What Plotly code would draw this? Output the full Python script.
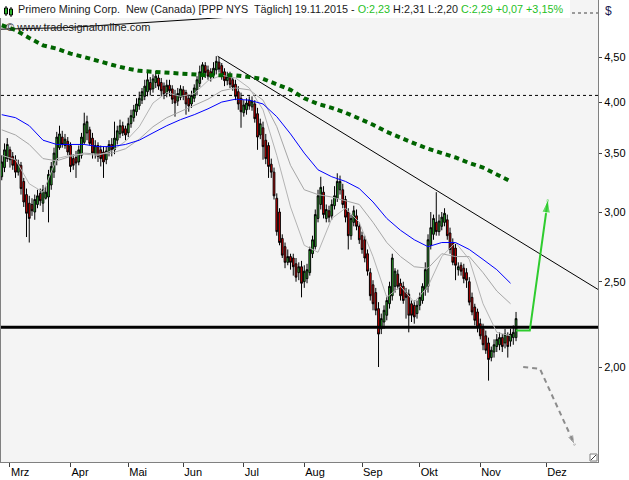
import math
import plotly.graph_objects as go

# Daily candles, Feb 25 2015 .. Nov 19 2015 (trading day index 0..187)
opens = [
    3.29, 3.37, 3.45, 3.53, 3.47, 3.44, 3.33, 3.39, 3.25, 3.14,
    3.07, 3.06, 3.00, 3.06, 3.15, 3.07, 3.11, 3.12, 3.22, 3.33,
    3.44, 3.55, 3.65, 3.57, 3.61, 3.57, 3.45, 3.46, 3.42, 3.48,
    3.60, 3.69, 3.72, 3.64, 3.49, 3.57, 3.53, 3.51, 3.44, 3.51,
    3.58, 3.53, 3.62, 3.68, 3.76, 3.73, 3.69, 3.78, 3.84, 3.90,
    3.96, 4.02, 4.06, 4.11, 4.21, 4.14, 4.21, 4.26, 4.21, 4.17,
    4.09, 4.18, 4.14, 4.08, 4.01, 4.05, 4.13, 4.10, 4.04, 3.98,
    4.04, 4.13, 4.20, 4.28, 4.40, 4.35, 4.33, 4.29, 4.35, 4.44,
    4.40, 4.33, 4.23, 4.28, 4.24, 4.19, 4.11, 4.04, 3.89, 3.92,
    4.02, 3.95, 3.98, 3.88, 3.67, 3.74, 3.62, 3.57, 3.40, 3.33,
    3.11, 3.00, 2.80, 2.74, 2.63, 2.67, 2.66, 2.62, 2.56, 2.60,
    2.50, 2.52, 2.56, 2.69, 2.74, 2.95, 3.06, 3.16, 2.95, 3.01,
    2.97, 3.05, 3.11, 3.18, 3.18, 3.10, 3.00, 2.82, 2.92, 2.97,
    2.89, 2.82, 2.79, 2.69, 2.56, 2.48, 2.43, 2.33, 2.21, 2.25,
    2.29, 2.36, 2.41, 2.47, 2.55, 2.49, 2.47, 2.43, 2.42, 2.36,
    2.35, 2.30, 2.35, 2.38, 2.45, 2.47, 2.75, 2.83, 2.92, 2.85,
    2.89, 2.92, 2.94, 2.84, 2.77, 2.73, 2.58, 2.61, 2.59, 2.56,
    2.50, 2.40, 2.34, 2.31, 2.24, 2.21, 2.17, 2.13, 2.05, 2.08,
    2.11, 2.12, 2.16, 2.13, 2.17, 2.14, 2.16, 2.16,
]
highs = [
    3.48, 3.59, 3.64, 3.56, 3.51, 3.48, 3.44, 3.42, 3.28, 3.19,
    3.13, 3.11, 3.14, 3.18, 3.19, 3.22, 3.21, 3.35, 3.42, 3.55,
    3.70, 3.76, 3.71, 3.68, 3.65, 3.60, 3.49, 3.52, 3.57, 3.69,
    3.89, 3.86, 3.75, 3.69, 3.62, 3.60, 3.57, 3.56, 3.56, 3.62,
    3.64, 3.80, 3.76, 3.82, 3.80, 3.76, 3.84, 3.92, 3.97, 4.04,
    4.11, 4.15, 4.24, 4.33, 4.27, 4.30, 4.34, 4.30, 4.26, 4.21,
    4.24, 4.24, 4.18, 4.13, 4.15, 4.18, 4.17, 4.13, 4.08, 4.12,
    4.19, 4.28, 4.40, 4.44, 4.44, 4.40, 4.37, 4.44, 4.51, 4.50,
    4.43, 4.37, 4.33, 4.33, 4.26, 4.24, 4.17, 4.10, 4.02, 4.04,
    4.06, 4.06, 4.02, 3.94, 3.83, 3.80, 3.68, 3.60, 3.45, 3.37,
    3.15, 3.03, 2.83, 2.77, 2.72, 2.69, 2.69, 2.66, 2.63, 2.64,
    2.61, 2.62, 2.74, 2.82, 3.02, 3.18, 3.29, 3.21, 3.06, 3.05,
    3.10, 3.21, 3.32, 3.30, 3.23, 3.13, 3.03, 2.98, 3.05, 3.02,
    2.92, 2.85, 2.82, 2.72, 2.59, 2.51, 2.46, 2.37, 2.30, 2.35,
    2.41, 2.50, 2.69, 2.59, 2.58, 2.52, 2.50, 2.46, 2.45, 2.38,
    2.38, 2.38, 2.43, 2.49, 2.63, 2.83, 3.00, 2.98, 3.16, 2.98,
    3.00, 3.03, 2.98, 2.88, 2.80, 2.76, 2.63, 2.63, 2.62, 2.59,
    2.53, 2.43, 2.36, 2.33, 2.27, 2.24, 2.20, 2.16, 2.11, 2.15,
    2.18, 2.19, 2.18, 2.21, 2.19, 2.21, 2.23, 2.31,
]
lows = [
    3.26, 3.33, 3.42, 3.37, 3.35, 3.28, 3.30, 3.14, 3.04, 2.81,
    2.77, 2.97, 2.94, 3.03, 3.05, 3.00, 3.10, 2.92, 3.18, 3.28,
    3.39, 3.53, 3.55, 3.54, 3.48, 3.33, 3.35, 3.28, 3.39, 3.45,
    3.58, 3.62, 3.57, 3.45, 3.45, 3.42, 3.38, 3.28, 3.40, 3.47,
    3.47, 3.49, 3.58, 3.64, 3.66, 3.62, 3.65, 3.74, 3.80, 3.86,
    3.92, 3.98, 4.02, 4.06, 4.07, 4.10, 4.15, 4.13, 4.06, 4.03,
    4.05, 4.06, 3.98, 3.85, 3.96, 4.02, 4.02, 3.87, 3.90, 3.94,
    4.00, 4.07, 4.16, 4.24, 4.26, 4.24, 4.22, 4.25, 4.30, 4.32,
    4.24, 4.17, 4.18, 4.15, 4.12, 4.02, 3.92, 3.74, 3.85, 3.87,
    3.92, 3.91, 3.79, 3.53, 3.63, 3.44, 3.40, 3.28, 3.28, 3.10,
    2.82, 2.75, 2.66, 2.59, 2.61, 2.58, 2.54, 2.50, 2.51, 2.40,
    2.46, 2.49, 2.54, 2.66, 2.72, 2.92, 3.02, 2.95, 2.92, 2.92,
    2.94, 3.02, 3.08, 3.14, 3.03, 2.92, 2.72, 2.79, 2.89, 2.86,
    2.76, 2.69, 2.63, 2.54, 2.38, 2.32, 2.29, 2.00, 2.18, 2.21,
    2.26, 2.33, 2.38, 2.43, 2.45, 2.38, 2.36, 2.27, 2.19, 2.25,
    2.24, 2.27, 2.32, 2.36, 2.41, 2.43, 2.72, 2.79, 2.82, 2.82,
    2.86, 2.89, 2.79, 2.69, 2.61, 2.51, 2.54, 2.54, 2.49, 2.46,
    2.35, 2.29, 2.23, 2.19, 2.15, 2.09, 2.07, 1.93, 2.03, 2.05,
    2.08, 2.09, 2.08, 2.10, 2.05, 2.11, 2.12, 2.14,
]
closes = [
    3.42, 3.53, 3.58, 3.44, 3.39, 3.33, 3.40, 3.19, 3.08, 2.99,
    2.95, 3.01, 3.10, 3.13, 3.09, 3.18, 3.16, 3.31, 3.38, 3.50,
    3.65, 3.68, 3.58, 3.63, 3.51, 3.38, 3.39, 3.41, 3.53, 3.65,
    3.78, 3.80, 3.59, 3.50, 3.57, 3.47, 3.45, 3.42, 3.52, 3.58,
    3.53, 3.64, 3.71, 3.76, 3.69, 3.67, 3.78, 3.86, 3.92, 3.98,
    4.04, 4.11, 4.17, 4.24, 4.13, 4.25, 4.28, 4.17, 4.12, 4.08,
    4.18, 4.12, 4.03, 3.99, 4.09, 4.14, 4.06, 3.98, 3.96, 4.07,
    4.15, 4.24, 4.33, 4.41, 4.32, 4.28, 4.27, 4.37, 4.45, 4.36,
    4.29, 4.23, 4.28, 4.19, 4.16, 4.06, 3.98, 3.90, 3.97, 3.99,
    3.96, 4.01, 3.83, 3.65, 3.78, 3.56, 3.45, 3.38, 3.33, 3.13,
    2.85, 2.77, 2.68, 2.63, 2.67, 2.63, 2.60, 2.53, 2.60, 2.49,
    2.57, 2.58, 2.72, 2.79, 2.98, 3.13, 3.20, 2.98, 3.02, 2.96,
    3.06, 3.13, 3.25, 3.25, 3.06, 2.96, 2.82, 2.95, 3.01, 2.89,
    2.79, 2.72, 2.66, 2.57, 2.41, 2.36, 2.32, 2.18, 2.27, 2.32,
    2.38, 2.47, 2.66, 2.57, 2.47, 2.41, 2.38, 2.40, 2.29, 2.29,
    2.28, 2.35, 2.40, 2.47, 2.58, 2.79, 2.88, 2.95, 2.85, 2.93,
    2.96, 2.99, 2.82, 2.72, 2.63, 2.61, 2.60, 2.57, 2.52, 2.51,
    2.37, 2.31, 2.26, 2.22, 2.17, 2.12, 2.09, 2.04, 2.09, 2.12,
    2.15, 2.16, 2.11, 2.18, 2.11, 2.18, 2.19, 2.27,
]

# moving averages, read every 5th trading day
ma_idx = list(range(0, 186, 5))
ma_fast = [3.48, 3.44, 3.23, 3.16, 3.45, 3.48, 3.49, 3.48, 3.52, 3.61,
           3.75, 3.99, 4.10, 4.06, 4.09, 4.23, 4.29, 4.26, 4.15, 3.92,
           3.48, 3.04, 2.75, 2.70, 2.95, 3.03, 2.92, 2.67, 2.40, 2.47,
           2.37, 2.47, 2.67, 2.77, 2.65, 2.36, 2.19, 2.17]
ma_slow = [3.72, 3.67, 3.58, 3.45, 3.43, 3.47, 3.50, 3.49, 3.50, 3.54,
           3.63, 3.75, 3.84, 3.90, 3.96, 4.03, 4.12, 4.15, 4.13, 4.02,
           3.75, 3.39, 3.18, 3.14, 3.12, 3.09, 3.06, 2.92, 2.77, 2.67,
           2.60, 2.59, 2.69, 2.67, 2.67, 2.56, 2.44, 2.36]
ma_50 = [3.87, 3.84, 3.76, 3.62, 3.58, 3.58, 3.58, 3.56, 3.56, 3.58,
         3.62, 3.69, 3.76, 3.82, 3.87, 3.93, 4.00, 4.03, 4.02, 3.98,
         3.85, 3.68, 3.50, 3.35, 3.29, 3.25, 3.19, 3.08, 2.95, 2.86,
         2.79, 2.74, 2.77, 2.77, 2.72, 2.65, 2.58, 2.49]
ma_200 = [4.89, 4.83, 4.73, 4.64, 4.60, 4.54, 4.50, 4.45, 4.41, 4.37,
          4.34, 4.33, 4.32, 4.30, 4.29, 4.29, 4.29, 4.29, 4.27, 4.25,
          4.19, 4.13, 4.04, 3.98, 3.94, 3.89, 3.83, 3.77, 3.70, 3.64,
          3.59, 3.54, 3.50, 3.46, 3.41, 3.37, 3.31, 3.25]

month_ticks = [3, 25, 46, 66, 88, 110, 131, 152, 174, 198]
month_labels = ["Mrz", "Apr", "Mai", "Jun", "Jul", "Aug", "Sep", "Okt", "Nov", "Dez"]

support_level = 2.22
ref_level = 4.07
trend_x = [78.5, 216.8]
trend_y = [4.51, 2.45]
top_line_x = [-0.64, 23.7, 72.1, 173.9]
top_line_y = [4.84, 4.86, 4.97, 5.22]
up_x = [187, 192, 198.6]
up_y = [2.20, 2.20, 3.10]
down_x = [189.6, 195.7, 208.4]
down_y = [2.00, 1.99, 1.63]

x_range = [-0.27, 216.8]
y_range = [math.log10(1.56), math.log10(5.224)]

W, H = 629, 480
ML, MR, MT, MB = 1, 31, 0, 18
PW, PH = W - ML - MR, H - MT - MB


def px(x):
    return (x - ML) / PW


def py(y):
    return 1 - (y - MT) / PH


fig = go.Figure()

fig.add_trace(go.Candlestick(
    x=list(range(len(closes))), open=opens, high=highs, low=lows, close=closes,
    increasing=dict(line=dict(color='black', width=1), fillcolor='#2db42d'),
    decreasing=dict(line=dict(color='black', width=1), fillcolor='#e60000'),
    whiskerwidth=0, showlegend=False, hoverinfo='skip'))

line_traces = [
    (top_line_x, top_line_y, dict(color='black', width=1)),
    ([x_range[0], x_range[1]], [ref_level, ref_level], dict(color='black', width=1, dash='dot')),
    ([x_range[0], x_range[1]], [support_level, support_level], dict(color='black', width=3)),
    (trend_x, trend_y, dict(color='black', width=1)),
    (ma_idx, ma_slow, dict(color='#a6a6a6', width=1)),
    (ma_idx, ma_fast, dict(color='#b4b4b4', width=1)),
    (ma_idx, ma_50, dict(color='#0000ff', width=1)),
    (ma_idx, ma_200, dict(color='#006400', width=4, dash='5px,4px')),
]
for xs, ys, ln in line_traces:
    fig.add_trace(go.Scatter(x=xs, y=ys, mode='lines', line=ln,
                             showlegend=False, hoverinfo='skip'))

# forecast arrows
fig.add_trace(go.Scatter(
    x=up_x, y=up_y, mode='lines+markers',
    line=dict(color='#2ecc2e', width=2),
    marker=dict(symbol='arrow', angleref='previous', size=[0, 0, 14], color='#2ecc2e'),
    showlegend=False, hoverinfo='skip'))
fig.add_trace(go.Scatter(
    x=down_x, y=down_y, mode='lines+markers',
    line=dict(color='#8c8c8c', width=2, dash='5px,4px'),
    marker=dict(symbol='arrow', angleref='previous', size=[0, 0, 11], color='#8c8c8c'),
    showlegend=False, hoverinfo='skip'))

shapes = [
    # white header box
    dict(type='rect', xref='paper', yref='paper', x0=px(0), x1=px(570), y0=py(18), y1=py(0),
         fillcolor='white', line=dict(width=0), layer='above'),
    dict(type='line', xref='paper', yref='paper', x0=px(572), x1=px(598), y0=py(13), y1=py(13),
         line=dict(color='#404040', width=1, dash='dot'), layer='above'),
    # small candle icon
    dict(type='line', xref='paper', yref='paper', x0=px(6), x1=px(6), y0=py(16), y1=py(6),
         line=dict(color='black', width=1), layer='above'),
    dict(type='rect', xref='paper', yref='paper', x0=px(4.5), x1=px(7.5), y0=py(14), y1=py(8),
         fillcolor='#2db42d', line=dict(color='black', width=1), layer='above'),
    dict(type='line', xref='paper', yref='paper', x0=px(11), x1=px(11), y0=py(17), y1=py(7),
         line=dict(color='black', width=1), layer='above'),
    dict(type='rect', xref='paper', yref='paper', x0=px(9.5), x1=px(12.5), y0=py(15), y1=py(9),
         fillcolor='#2db42d', line=dict(color='black', width=1), layer='above'),
    # resize glyph in the corner
    dict(type='rect', xref='paper', yref='paper', x0=px(590), x1=px(597), y0=py(461), y1=py(454),
         fillcolor='white', line=dict(color='#808080', width=1), layer='above'),
    dict(type='line', xref='paper', yref='paper', x0=px(591), x1=px(596), y0=py(460), y1=py(455),
         line=dict(color='#404040', width=1), layer='above'),
]

green = '#1fbf1f'
header = ("Primero Mining Corp.\u00a0 New (Canada) [PPP NYS\u00a0 Täglich] 19.11.2015 - "
          f"<span style='color:{green}'>O:2,23</span> H:2,31 L:2,20 "
          f"<span style='color:{green}'>C:2,29 +0,07 +3,15%</span>")

annotations = [
    dict(text=header, xref='paper', yref='paper', x=px(16), y=py(9.5),
         xanchor='left', yanchor='middle', showarrow=False,
         font=dict(size=10.8, color='#1a1a1a')),
    dict(text='© www.tradesignalonline.com', xref='paper', yref='paper', x=px(4), y=py(27),
         xanchor='left', yanchor='middle', showarrow=False,
         font=dict(size=11, color='#1a1a1a')),
    dict(text='$', xref='paper', yref='paper', x=px(603), y=py(11),
         xanchor='left', yanchor='middle', showarrow=False,
         font=dict(size=12, color='#1a1a50')),
]

fig.update_layout(
    width=W, height=H,
    margin=dict(l=ML, r=MR, t=MT, b=MB, pad=0),
    paper_bgcolor='white', plot_bgcolor='#f4f4f4',
    font=dict(family='Liberation Sans, Arial, sans-serif', size=11, color='black'),
    separators=',.',
    showlegend=False,
    boxgap=0.1,
    shapes=shapes,
    annotations=annotations,
    xaxis=dict(range=x_range, showgrid=False, zeroline=False,
               tickvals=month_ticks, ticktext=month_labels,
               ticks='outside', ticklen=4, tickcolor='#404040', tickwidth=1,
               ticklabelposition='outside right',
               showline=True, linecolor='#808080', mirror=True,
               rangeslider=dict(visible=False), tickfont=dict(size=11)),
    yaxis=dict(type='log', range=y_range, side='right', showgrid=False, zeroline=False,
               tickvals=[2.0, 2.5, 3.0, 3.5, 4.0, 4.5], tickformat='.2f',
               ticks='outside', ticklen=3, tickcolor='#404040',
               showline=True, linecolor='#808080', mirror=True,
               tickfont=dict(size=11)),
)

fig.write_html("out.html", config={'displayModeBar': False},
               post_script="document.body.style.margin='0';")
